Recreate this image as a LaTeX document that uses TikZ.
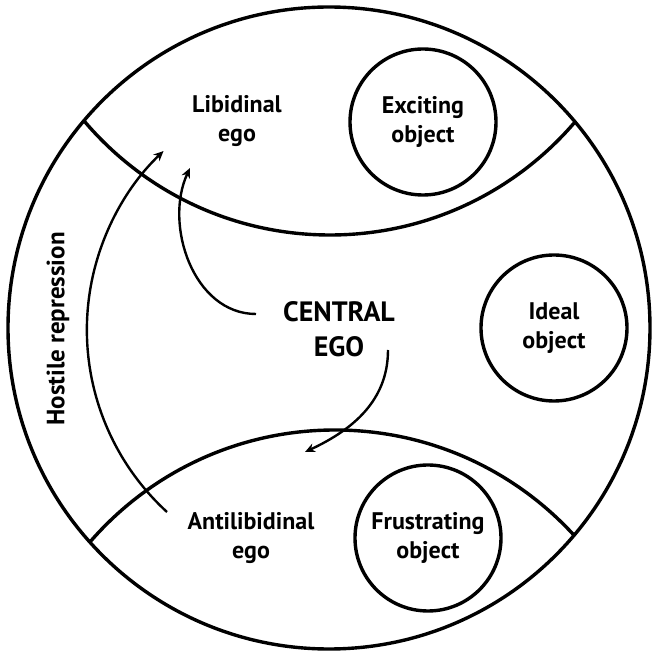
\documentclass[tikz,border=0pt]{standalone}
\usepackage{fontspec}
\setmainfont{PT Sans}
\usetikzlibrary{arrows.meta}
\begin{document}
\begin{tikzpicture}[x=1pt,y=1pt,
    egotext/.style={font=\bfseries\fontsize{24}{29}\selectfont, align=center},
    object/.style={draw, circle, line width=3.4pt, minimum size=146pt, inner sep=0pt,
        font=\bfseries\fontsize{24}{29}\selectfont, align=center},
    bound/.style={line width=3.4pt},
    flow/.style={line width=2.4pt, -{Stealth[length=10pt,width=9pt]}}]
    \useasboundingbox (0,0) rectangle (653,662);

    % Outer circle
    \draw[bound] (329,334) circle[radius=321];

    % Upper and lower boundaries
    \begin{scope}
        \clip (329,334) circle[radius=321];
        \draw[bound] (330,749) circle[radius=322];
        \draw[bound] (335,-92) circle[radius=324];
    \end{scope}

    % Egos and objects
    \node[egotext] (lib) at (237,541) {Libidinal\\ego};
    \node[object] (exc) at (423,540) {Exciting\\object};
    \node[egotext, font=\bfseries\fontsize{28}{35}\selectfont] (ce) at (339,333) {CENTRAL\\EGO};
    \node[object] (ideal) at (554,334) {Ideal\\object};
    \node[egotext] (anti) at (251,124) {Antilibidinal\\ego};
    \node[object] (fru) at (428,124) {Frustrating\\object};
    \node[egotext, rotate=90, font=\bfseries\fontsize{25}{30}\selectfont] (hr) at (58,333) {Hostile repression};

    % Arrow ends
    \coordinate (hr from) at (167,150);
    \coordinate (ce left) at (256,348);
    \coordinate (lib tip) at (190,494);
    \coordinate (ce right) at (388,312);
    \coordinate (anti tip) at (305,210);

    % Hostile repression
    \draw[flow] (hr from) arc[start angle=227.5, end angle=133.6, radius=247];
    % Central ego to libidinal ego
    \draw[flow] (ce left) to[out=180, in=-115] (lib tip);
    % Central ego to antilibidinal ego
    \draw[flow] (ce right) to[out=-90, in=25] (anti tip);
\end{tikzpicture}
\end{document}
